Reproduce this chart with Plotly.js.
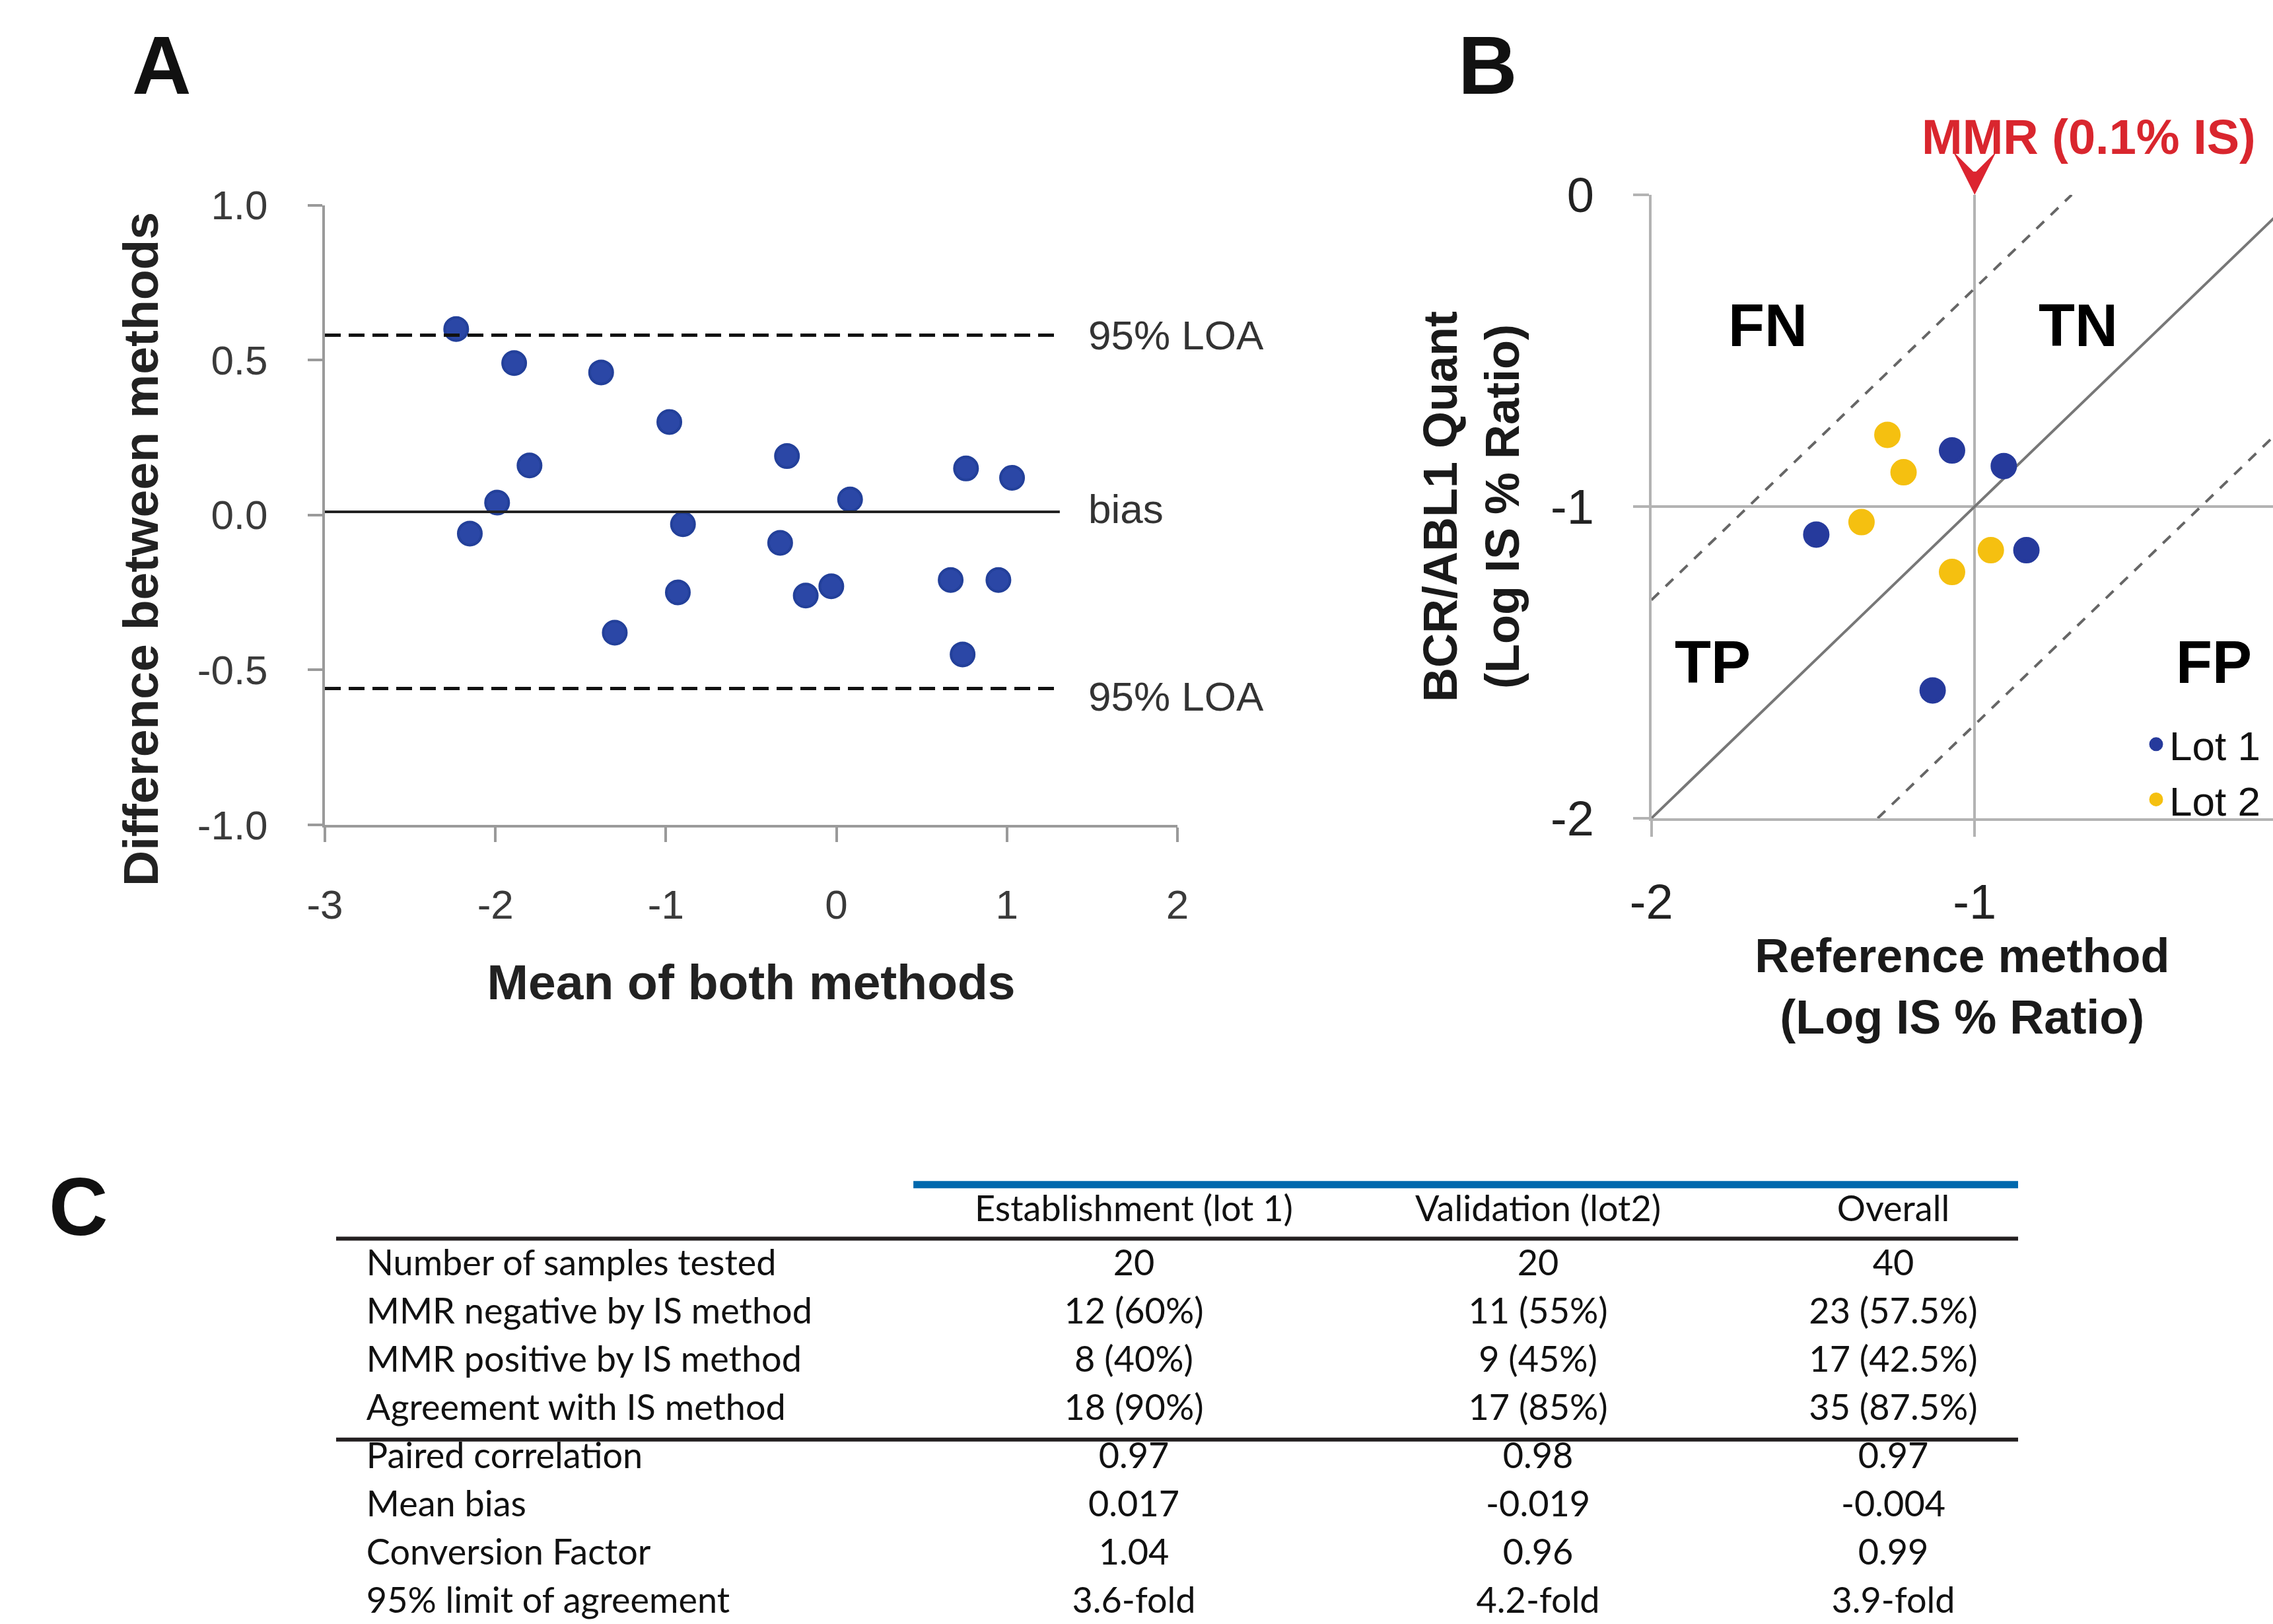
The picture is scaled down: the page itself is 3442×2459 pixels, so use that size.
<!DOCTYPE html>
<html>
<head>
<meta charset="utf-8">
<script src="https://cdn.plot.ly/plotly-3.0.1.min.js"></script>
<style>html,body{margin:0;padding:0;background:#fff;}#chart{width:3442px;height:2459px;}</style>
</head>
<body>
<div id="chart"></div>
<script>
// ---------- Panel A: Bland-Altman data ----------
const aMean = [-2.23, -1.89, -1.38, -0.98, -1.80, -0.29, 0.76, 1.03, -1.99, 0.08,
               -2.15, -0.90, -0.33, -0.18, -0.03, -0.93, -1.30, 0.67, 0.95, 0.74];
const aDiff = [0.60, 0.49, 0.46, 0.30, 0.16, 0.19, 0.15, 0.12, 0.04, 0.05,
               -0.06, -0.03, -0.09, -0.26, -0.23, -0.25, -0.38, -0.21, -0.21, -0.45];
const loaUpper = 0.58;
const loaLower = -0.56;
const biasValue = 0.01;
const aXTickVals = [-3, -2, -1, 0, 1, 2];
const aXTickText = ['-3', '-2', '-1', '0', '1', '2'];
const aYTickVals = [1, 0.5, 0, -0.5, -1];
const aYTickText = ['1.0', '0.5', '0.0', '-0.5', '-1.0'];

// ---------- Panel B: concordance data ----------
const lot1X = [-1.07, -0.91, -1.49, -0.84, -1.13];
const lot1Y = [-0.82, -0.87, -1.09, -1.14, -1.59];
const lot2X = [-1.27, -1.22, -1.35, -0.95, -1.07];
const lot2Y = [-0.77, -0.89, -1.05, -1.14, -1.21];
const identityX = [-2, 0];
const identityY = [-2, 0];
const upperBandX = [-2, -0.7];
const upperBandY = [-1.3, 0];
const lowerBandX = [-1.3, 0];
const lowerBandY = [-2, -0.7];
const mmrThreshold = -1;
const bXTickVals = [-2, -1];
const bXTickText = ['-2', '-1'];
const bYTickVals = [0, -1, -2];
const bYTickText = ['0', '-1', '-2'];
const quadrantLabels = ['FN', 'TN', 'TP', 'FP'];
const quadrantX = [-1.64, -0.68, -1.81, -0.26];
const quadrantY = [-0.42, -0.42, -1.50, -1.50];

// ---------- Panel C: table ----------
const tableHeader = ['Establishment (lot 1)', 'Validation (lot2)', 'Overall'];
const rowLabels = ['Number of samples tested', 'MMR negative by IS method', 'MMR positive by IS method',
                   'Agreement with IS method', 'Paired correlation', 'Mean bias',
                   'Conversion Factor', '95% limit of agreement'];
const lot1Col = ['20', '12 (60%)', '8 (40%)', '18 (90%)', '0.97', '0.017', '1.04', '3.6-fold'];
const lot2Col = ['20', '11 (55%)', '9 (45%)', '17 (85%)', '0.98', '-0.019', '0.96', '4.2-fold'];
const overallCol = ['40', '23 (57.5%)', '17 (42.5%)', '35 (87.5%)', '0.97', '-0.004', '0.99', '3.9-fold'];

// ---------- layout constants ----------
const W = 3442, H = 2459;
const px = v => v / W;
const py = v => 1 - v / H;
const sansFont = 'Liberation Sans, Arial, sans-serif';
const tableFont = 'Lato, Open Sans, sans-serif';
const blueA = '#2b47a6';
const blueB = '#263a9c';
const yellowB = '#f5c010';
const gridGray = '#b3b3b3';

const colX = [0.4743, 0.7146, 0.9258];
const labelX = 0.018;
const headerRow = -1.12;
const rowIdx = rowLabels.map((_, i) => i);

const traces = [];

// Panel A traces
traces.push({
  x: aMean, y: aDiff, type: 'scatter', mode: 'markers', xaxis: 'x', yaxis: 'y',
  marker: {size: 35, color: blueA, line: {width: 4, color: '#23409a'}},
  showlegend: false, hoverinfo: 'x+y'
});
const aLineEnd = 1.31;
[[loaUpper, 'dashed'], [loaLower, 'dashed'], [biasValue, 'solid']].forEach(([v, kind]) => {
  traces.push({
    x: [aXTickVals[0], aLineEnd], y: [v, v], type: 'scatter', mode: 'lines', xaxis: 'x', yaxis: 'y',
    line: kind === 'dashed' ? {color: '#111', width: 5, dash: '24px,12px'} : {color: '#222', width: 4},
    showlegend: false, hoverinfo: 'skip'
  });
});

// Panel B traces
traces.push({
  x: identityX, y: identityY, type: 'scatter', mode: 'lines', xaxis: 'x2', yaxis: 'y2',
  line: {color: '#777', width: 4}, showlegend: false, hoverinfo: 'skip'
});
[[upperBandX, upperBandY], [lowerBandX, lowerBandY]].forEach(([bx, by]) => {
  traces.push({
    x: bx, y: by, type: 'scatter', mode: 'lines', xaxis: 'x2', yaxis: 'y2',
    line: {color: '#666', width: 4, dash: '16px,14px'}, showlegend: false, hoverinfo: 'skip'
  });
});
traces.push({
  x: lot1X, y: lot1Y, type: 'scatter', mode: 'markers', name: 'Lot 1', xaxis: 'x2', yaxis: 'y2',
  marker: {size: 35, color: blueB, line: {width: 5, color: blueB}}
});
traces.push({
  x: lot2X, y: lot2Y, type: 'scatter', mode: 'markers', name: 'Lot 2', xaxis: 'x2', yaxis: 'y2',
  marker: {size: 35, color: yellowB, line: {width: 5, color: yellowB}}
});

// Panel C table (text drawn on a hidden axis pair)
traces.push({
  x: colX, y: colX.map(() => headerRow), text: tableHeader, type: 'scatter', mode: 'text',
  xaxis: 'x3', yaxis: 'y3', textposition: 'middle center',
  textfont: {family: tableFont, size: 54, color: '#111'}, showlegend: false, hoverinfo: 'skip'
});
traces.push({
  x: rowIdx.map(() => labelX), y: rowIdx, text: rowLabels, type: 'scatter', mode: 'text',
  xaxis: 'x3', yaxis: 'y3', textposition: 'middle right',
  textfont: {family: tableFont, size: 54, color: '#111'}, showlegend: false, hoverinfo: 'skip'
});
[lot1Col, lot2Col, overallCol].forEach((col, c) => {
  traces.push({
    x: rowIdx.map(() => colX[c]), y: rowIdx, text: col, type: 'scatter', mode: 'text',
    xaxis: 'x3', yaxis: 'y3', textposition: 'middle center',
    textfont: {family: tableFont, size: 54, color: '#111'}, showlegend: false, hoverinfo: 'skip'
  });
});

const annotations = [];
// Panel letters
[['A', 198, 99], ['B', 2206, 99], ['C', 72, 1827]].forEach(([t, lx, cy]) => {
  annotations.push({
    text: '<b>' + t + '</b>', xref: 'paper', yref: 'paper', x: px(lx), y: py(cy),
    xanchor: 'left', yanchor: 'middle', showarrow: false,
    font: {family: sansFont, size: 124, color: '#111'}
  });
});
// Panel A y-axis title (placed like the original, slightly below the plot centre)
annotations.push({
  text: '<b>Difference between methods</b>', xref: 'paper', yref: 'paper',
  x: px(213), y: py(832), xanchor: 'center', yanchor: 'middle', textangle: -90,
  showarrow: false, font: {family: sansFont, size: 75, color: '#222'}
});
// Panel A line labels
[['95% LOA', loaUpper], ['95% LOA', loaLower - 0.025], ['bias', biasValue + 0.01]].forEach(([t, yv]) => {
  annotations.push({
    text: t, xref: 'x', yref: 'y', x: 1.47, y: yv, xanchor: 'left', yanchor: 'middle',
    showarrow: false, font: {family: sansFont, size: 62, color: '#333'}
  });
});
// Panel B quadrant labels
quadrantLabels.forEach((t, i) => {
  annotations.push({
    text: '<b>' + t + '</b>', xref: 'x2', yref: 'y2', x: quadrantX[i], y: quadrantY[i],
    xanchor: 'center', yanchor: 'middle', showarrow: false,
    font: {family: sansFont, size: 90, color: '#000'}
  });
});
// MMR threshold marker (arrow pointing at the threshold on the top edge) and its label
annotations.push({
  text: ' ', xref: 'x2', yref: 'y2', x: mmrThreshold, y: 0, ax: 0, ay: -40,
  showarrow: true, arrowhead: 3, arrowsize: 2.2, arrowwidth: 5, arrowcolor: '#dc2430', standoff: 0
});
annotations.push({
  text: '<b>MMR (0.1% IS)</b>', xref: 'x2', yref: 'paper', x: -0.647, y: py(208),
  xanchor: 'center', yanchor: 'middle', showarrow: false,
  font: {family: sansFont, size: 74, color: '#d9262e'}
});

const shapes = [
  {type: 'line', xref: 'x3', yref: 'y3', x0: 0.3432, x1: 1, y0: -1.69, y1: -1.69,
   line: {color: '#0068ad', width: 11}},
  {type: 'line', xref: 'x3', yref: 'y3', x0: 0, x1: 1, y0: -0.568, y1: -0.568,
   line: {color: '#231f20', width: 6}},
  {type: 'line', xref: 'x3', yref: 'y3', x0: 0, x1: 1, y0: 3.60, y1: 3.60,
   line: {color: '#231f20', width: 6}}
];

const layout = {
  width: W, height: H,
  margin: {l: 0, r: 0, t: 0, b: 0, pad: 0, autoexpand: false},
  paper_bgcolor: '#fff', plot_bgcolor: 'rgba(0,0,0,0)',
  font: {family: sansFont, color: '#222'},
  xaxis: {
    domain: [px(492), px(1783)], range: [-3, 2], anchor: 'y',
    tickvals: aXTickVals, ticktext: aXTickText,
    showgrid: false, zeroline: false, showline: true, linecolor: '#9a9a9a', linewidth: 4,
    ticks: 'outside', ticklen: 22, tickwidth: 4, tickcolor: '#9a9a9a',
    tickfont: {family: sansFont, size: 62, color: '#3a3a3a'}, ticklabelstandoff: 42,
    title: {text: '<b>Mean of both methods</b>', font: {family: sansFont, size: 75, color: '#222'}, standoff: 58}
  },
  yaxis: {
    domain: [py(1249), py(310.5)], range: [-1, 1], anchor: 'x',
    tickvals: aYTickVals, ticktext: aYTickText,
    showgrid: false, zeroline: false, showline: true, linecolor: '#9a9a9a', linewidth: 4,
    ticks: 'outside', ticklen: 22, tickwidth: 4, tickcolor: '#9a9a9a',
    tickfont: {family: sansFont, size: 62, color: '#3a3a3a'}, ticklabelstandoff: 48
  },
  xaxis2: {
    domain: [px(2500.7), 1], range: [-2, -0.0772], anchor: 'y2',
    tickvals: bXTickVals, ticktext: bXTickText,
    showgrid: true, gridcolor: gridGray, gridwidth: 4, zeroline: false,
    showline: true, linecolor: gridGray, linewidth: 4,
    ticks: 'outside', ticklen: 24, tickwidth: 4, tickcolor: gridGray,
    tickfont: {family: sansFont, size: 74, color: '#222'}, ticklabelstandoff: 35,
    title: {text: '<b>Reference method<br>(Log IS % Ratio)</b>', font: {family: sansFont, size: 72, color: '#1a1a1a'}, standoff: 6}
  },
  yaxis2: {
    domain: [py(1239), py(295)], range: [-2, 0], anchor: 'x2',
    tickvals: bYTickVals, ticktext: bYTickText,
    showgrid: true, gridcolor: gridGray, gridwidth: 4, zeroline: false,
    showline: true, linecolor: gridGray, linewidth: 4,
    ticks: 'outside', ticklen: 24, tickwidth: 4, tickcolor: gridGray,
    tickfont: {family: sansFont, size: 74, color: '#222'}, ticklabelstandoff: 44,
    title: {text: '<b>BCR/ABL1 Quant<br>(Log IS % Ratio)</b>', font: {family: sansFont, size: 72, color: '#1a1a1a'}, standoff: 25}
  },
  xaxis3: {domain: [px(509), px(3056)], range: [0, 1], anchor: 'y3', visible: false, fixedrange: true},
  yaxis3: {domain: [0, py(1760)], range: [7.4247, -2.1507], anchor: 'x3', visible: false, fixedrange: true},
  showlegend: true,
  legend: {
    x: px(3245), y: py(1080), xanchor: 'left', yanchor: 'top',
    bgcolor: 'rgba(0,0,0,0)', borderwidth: 0, tracegroupgap: 0,
    font: {family: sansFont, size: 62, color: '#111'}, itemsizing: 'trace'
  },
  annotations: annotations,
  shapes: shapes
};

Plotly.newPlot('chart', traces, layout, {staticPlot: true, displayModeBar: false});
</script>
</body>
</html>
